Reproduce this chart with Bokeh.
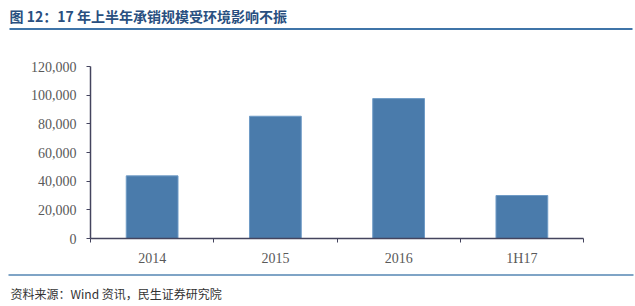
from bokeh.plotting import figure
from bokeh.layouts import column, row
from bokeh.models import Range1d, FixedTicker, NumeralTickFormatter
from bokeh.core.properties import value
from bokeh.embed import file_html
from bokeh.resources import INLINE

# ---- data ----
categories = ["2014", "2015", "2016", "1H17"]
amounts = [43700, 85300, 97600, 30000]
y_ticks = [0, 20000, 40000, 60000, 80000, 100000, 120000]
title_text = "图 12：17 年上半年承销规模受环境影响不振"
source_text = "资料来源：Wind 资讯，民生证券研究院"

W = 635
BAR = "#4a7bab"
AXIS = "#44445e"
LABEL = "#595959"
SERIF = "Liberation Serif"
CJK = "Noto Sans CJK SC"


def blank(h):
    f = figure(width=W, height=h, output_backend="svg", toolbar_location=None,
               x_range=Range1d(0, W), y_range=Range1d(h, 0),
               min_border=0, min_border_left=0, min_border_right=0,
               min_border_top=0, min_border_bottom=0,
               x_axis_location=None, y_axis_location=None)
    f.grid.visible = False
    f.outline_line_color = None
    f.background_fill_color = "white"
    return f


# header
hdr = blank(40)
hdr.text(x=[9], y=[15], text=[title_text], text_font=value(CJK),
         text_font_size="14px", text_font_style="bold", text_color="#294f80",
         text_baseline="middle", text_align="left")
hdr.line(x=[9, 632], y=[28.5, 28.5], line_color="#3f74a8", line_width=2)

# main chart
p = figure(width=W, height=228, output_backend="svg", toolbar_location=None,
           x_range=Range1d(0, len(categories)), y_range=Range1d(0, 120000),
           min_border_left=90, min_border_right=52, min_border_top=26,
           min_border_bottom=29)
p.grid.visible = False
p.outline_line_color = None

centers = [i + 0.5 for i in range(len(categories))]
p.vbar(x=centers, top=amounts, width=0.42, fill_color=BAR,
       line_color="#6f9bc6", line_width=1)

xa = p.xaxis[0]
xa.ticker = FixedTicker(ticks=centers, minor_ticks=list(range(len(categories) + 1)))
xa.major_label_overrides = {c: lab for c, lab in zip(centers, categories)}
xa.major_tick_out = 0
xa.major_tick_in = 0
xa.minor_tick_out = 4
xa.minor_tick_in = 0
xa.minor_tick_line_color = AXIS
xa.axis_line_color = AXIS
xa.axis_line_width = 1.5
xa.major_label_text_font = SERIF
xa.major_label_text_font_size = "14px"
xa.major_label_text_color = LABEL
xa.major_label_standoff = 8

ya = p.yaxis[0]
ya.ticker = FixedTicker(ticks=y_ticks)
ya.formatter = NumeralTickFormatter(format="0,0")
ya.major_tick_out = 4
ya.major_tick_in = 0
ya.minor_tick_line_color = None
ya.major_tick_line_color = AXIS
ya.axis_line_color = AXIS
ya.axis_line_width = 1.5
ya.major_label_text_font = SERIF
ya.major_label_text_font_size = "14px"
ya.major_label_text_color = LABEL
ya.major_label_standoff = 10

# footer
ftr = blank(38)
ftr.line(x=[8, 633], y=[6.5, 6.5], line_color="#7fa4c6", line_width=2)
ftr.text(x=[10], y=[25], text=[source_text], text_font=value(CJK),
         text_font_size="12px", text_color="#333333",
         text_baseline="middle", text_align="left")

layout = column(row(hdr), p, row(ftr), spacing=0)
open("out.html", "w").write(file_html(layout, INLINE))
